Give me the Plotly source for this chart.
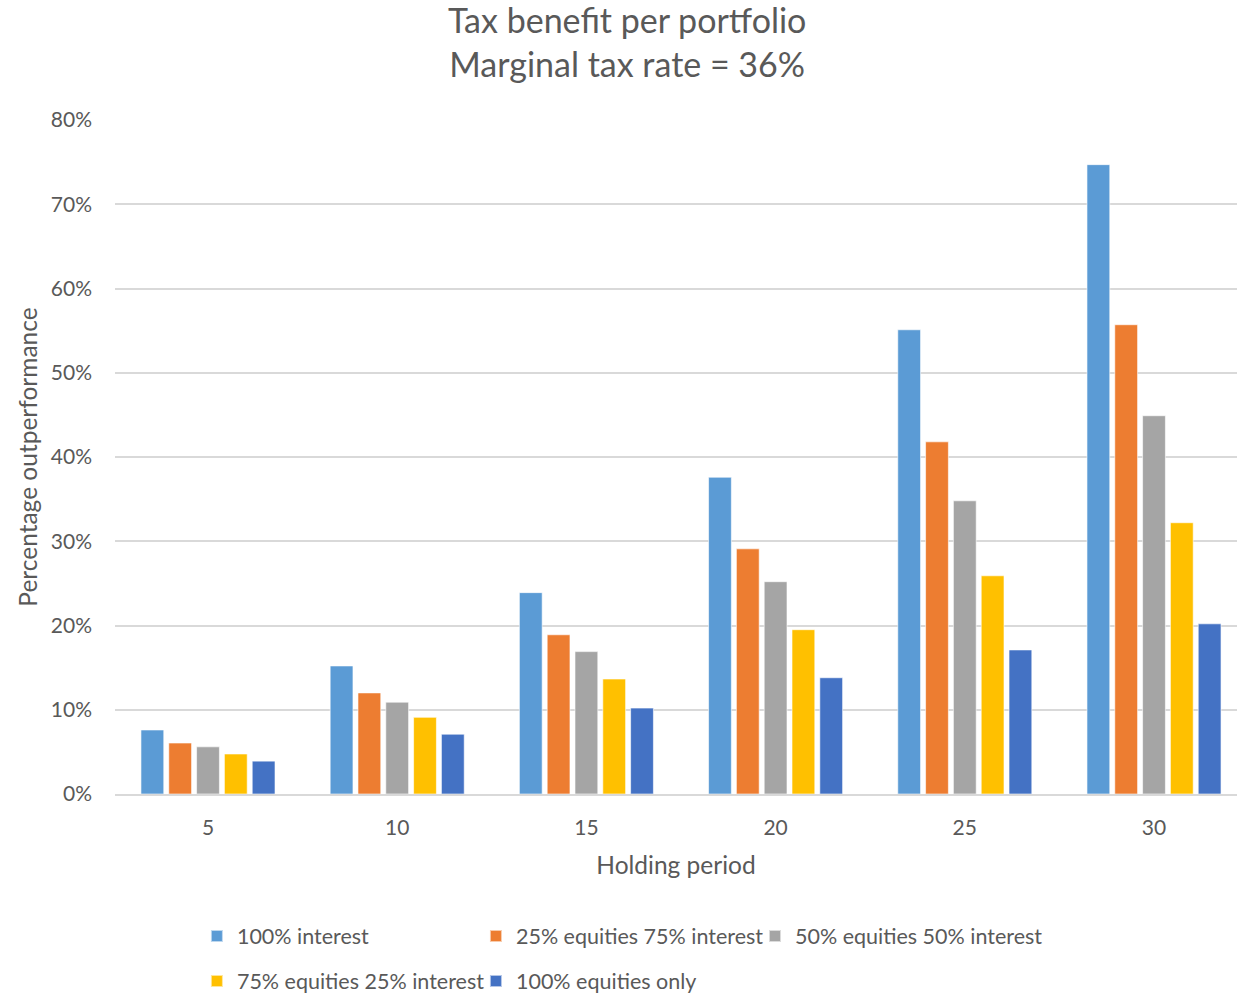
import plotly.graph_objects as go

categories = ["5", "10", "15", "20", "25", "30"]
series_names = [
    "100% interest",
    "25% equities 75% interest",
    "50% equities 50% interest",
    "75% equities 25% interest",
    "100% equities only",
]
interest_100 = [7.6, 15.2, 23.9, 37.6, 55.1, 74.7]
eq25_int75 = [6.05, 12.0, 18.9, 29.1, 41.8, 55.7]
eq50_int50 = [5.6, 10.9, 16.9, 25.2, 34.8, 44.9]
eq75_int25 = [4.75, 9.1, 13.65, 19.5, 25.9, 32.2]
equities_100 = [3.9, 7.1, 10.2, 13.8, 17.1, 20.2]
y_ticks = [0, 10, 20, 30, 40, 50, 60, 70, 80]
y_tick_labels = ["0%", "10%", "20%", "30%", "40%", "50%", "60%", "70%", "80%"]

colors = ["#5B9BD5", "#ED7D31", "#A5A5A5", "#FFC000", "#4472C4"]
legend_ids = ["legend", "legend2", "legend3", "legend4", "legend5"]
# legend placement (paper coordinates): column x, row y
legend_pos = [(0.073, -0.2107), (0.3217, -0.2107), (0.5704, -0.2107),
              (0.073, -0.2774), (0.3217, -0.2774)]
all_series = [interest_100, eq25_int75, eq50_int50, eq75_int25, equities_100]

fig = go.Figure()
for name, vals, col, lg in zip(series_names, all_series, colors, legend_ids):
    fig.add_trace(go.Bar(
        x=categories, y=vals, name=name, legend=lg, showlegend=True,
        marker=dict(color=col, line=dict(color="rgba(255,255,255,0.6)", width=1)),
    ))

font_family = "Lato, 'Open Sans', sans-serif"
grey = "#595959"

legend_common = dict(
    orientation="h", xanchor="left", yanchor="middle",
    font=dict(size=21.5, color=grey),
    itemsizing="constant", traceorder="normal",
    bgcolor="rgba(0,0,0,0)",
)
legend_layout = {lg: dict(x=px, y=py, **legend_common)
                 for lg, (px, py) in zip(legend_ids, legend_pos)}

fig.update_layout(
    width=1237, height=993,
    showlegend=True,
    margin=dict(l=115, r=0, t=120, b=199, autoexpand=False),
    paper_bgcolor="white", plot_bgcolor="white",
    barmode="group", bargap=0.265, bargroupgap=0.18,
    font=dict(family=font_family, color=grey, size=20),
    title=dict(
        text="Tax benefit per portfolio<br>Marginal tax rate = 36%",
        x=0.507, xanchor="center", yref="container", y=0.9666, yanchor="middle",
        font=dict(size=34, color=grey, family=font_family),
    ),
    xaxis=dict(
        range=[-0.4915, 5.4387],
        title=dict(text="Holding period", font=dict(size=24.5, color=grey), standoff=19),
        tickfont=dict(size=21, color=grey),
        ticklabelstandoff=14,
        showline=True, linecolor="#d9d9d9", linewidth=1.5,
        ticks="", showgrid=False,
    ),
    yaxis=dict(
        title=dict(text="Percentage outperformance", font=dict(size=24.5, color=grey), standoff=6),
        range=[0, 80], tickvals=y_ticks, ticktext=y_tick_labels,
        tickfont=dict(size=21, color=grey),
        showgrid=True, gridcolor="#d9d9d9", gridwidth=1.5,
        zeroline=False, ticks="",
        ticklabelstandoff=22,
    ),
    **legend_layout,
)

fig.write_html("out.html")
